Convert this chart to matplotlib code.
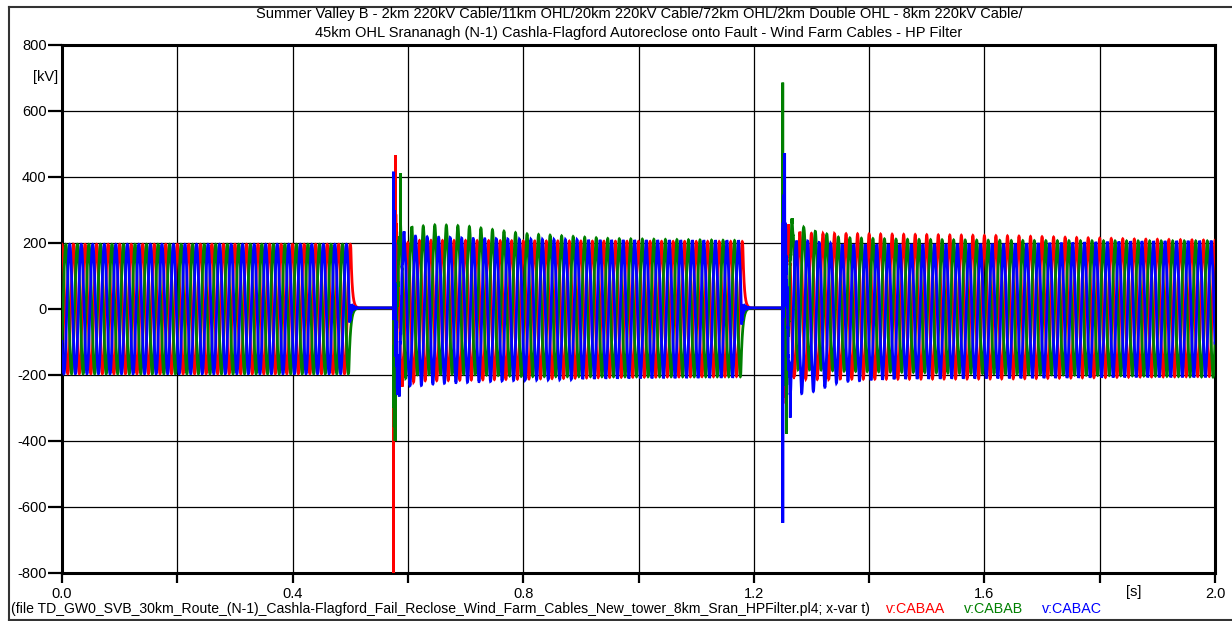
import numpy as np
import matplotlib
matplotlib.use("Agg")
import matplotlib.pyplot as plt
from matplotlib.lines import Line2D

# ------------------------------------------------------------------ data
FREQ_HZ = 50.0
T_END = 2.0
phase_names = ["v:CABAA", "v:CABAB", "v:CABAC"]
phase_colors = ["#ff0000", "#008000", "#0000ff"]
phase_angle_deg = [0.0, -120.0, 120.0]

prefault_amp_kv = [196.0, 196.0, 196.0]

# opening instants of each phase (first and second trip) [s]
trip_times_1 = [0.5010, 0.4975, 0.4990]
trip_times_2 = [1.1810, 1.1775, 1.1790]
trip_decay_ms = [2.5, 3.0, 1.0]
trip_ring_kv = [0.0, 0.0, 30.0]
residual_kv = [3.0, 3.0, 3.5]

reclose_times = [0.575, 1.250]

# envelope after the first reclose (amplitude and offset, kV)
env1_t = [0.575, 0.60, 0.65, 0.70, 0.80, 0.95, 1.18]
env1_amp = [
    [205, 207, 206, 205, 203, 200, 198],
    [215, 218, 220, 218, 210, 203, 200],
    [220, 220, 214, 210, 205, 202, 200],
]
env1_dc = [
    [-5, -5, -5, -4, -3, -1, 0],
    [10, 20, 29, 27, 12, 4, 1],
    [-8, -6, -4, -4, -2, -1, 0],
]

# envelope after the second reclose
env2_t = [1.25, 1.27, 1.30, 1.35, 1.45, 1.65, 1.85, 2.0]
env2_amp = [
    [212, 215, 215, 214, 213, 210, 203, 200],
    [210, 215, 205, 196, 195, 196, 198, 200],
    [215, 225, 220, 200, 196, 196, 198, 199],
]
env2_dc = [
    [8, 8, 8, 8, 7, 5, 3, 2],
    [20, 45, 28, 14, 10, 5, 2, 0],
    [-15, -22, -25, -12, -8, -6, -1, 0],
]

# high-frequency ringing right after each reclose (kV), per phase
ring_fast_kv = [[170, 140, 160], [140, 190, 210]]
ring_slow_kv = [[45, 55, 50], [45, 55, 55]]
harm5_kv = [6.0, 6.0, 8.0]

# switching spikes (t [s], v [kV])
spikes = [
    [(0.5751, -800), (0.5785, 466), (1.2520, -260), (1.2600, 226)],
    [(0.5778, -400), (0.5872, 412), (1.2502, 686), (1.2506, 350),
     (1.2566, -378), (1.2667, 274)],
    [(0.5749, 416), (0.5762, 300), (0.5850, -265), (1.2503, -648),
     (1.2535, 472), (1.2633, -329)],
]

x_ticks = [0.0, 0.2, 0.4, 0.6, 0.8, 1.0, 1.2, 1.4, 1.6, 1.8, 2.0]
x_tick_labels = ["0.0", "", "0.4", "", "0.8", "", "1.2", "", "1.6", "", "2.0"]
y_ticks = [-800, -600, -400, -200, 0, 200, 400, 600, 800]

title_lines = [
    "Summer Valley B - 2km 220kV Cable/11km OHL/20km 220kV Cable/72km OHL/2km Double OHL - 8km 220kV Cable/",
    "45km OHL Srananagh (N-1) Cashla-Flagford Autoreclose onto Fault - Wind Farm Cables - HP Filter",
]
file_text = ("(file TD_GW0_SVB_30km_Route_(N-1)_Cashla-Flagford_Fail_Reclose_Wind_Farm_Cables_"
             "New_tower_8km_Sran_HPFilter.pl4; x-var t)")

# ------------------------------------------------------------------ build waveforms
t = np.arange(0.0, T_END + 1e-9, 2.5e-5)
w = 2 * np.pi * FREQ_HZ


def phase_wave(p):
    ph = np.deg2rad(phase_angle_deg[p])
    v = prefault_amp_kv[p] * np.cos(w * t + ph)
    trips = [trip_times_1[p], trip_times_2[p]]
    env_t = [env1_t, env2_t]
    env_a = [env1_amp[p], env2_amp[p]]
    env_d = [env1_dc[p], env2_dc[p]]
    for k in range(2):
        tt = trips[k]
        tc = reclose_times[k]
        if k == 0:
            v0 = prefault_amp_kv[p] * np.cos(w * tt + ph)
        else:
            a = np.interp(tt, env1_t, env1_amp[p])
            d = np.interp(tt, env1_t, env1_dc[p])
            v0 = a * np.cos(w * tt + ph) + d
        m = (t >= tt) & (t < tc)
        dtm = t[m] - tt
        tau = trip_decay_ms[p] * 1e-3
        v[m] = (v0 - residual_kv[p]) * np.exp(-dtm / tau) + residual_kv[p] \
            + trip_ring_kv[p] * np.exp(-dtm / 3e-3) * np.sin(2 * np.pi * 750 * dtm)
        end = trips[1] if k == 0 else T_END + 1
        m2 = (t >= tc) & (t < end)
        tm = t[m2]
        dtc = tm - tc
        amp = np.interp(tm, env_t[k], env_a[k])
        dc = np.interp(tm, env_t[k], env_d[k])
        v[m2] = amp * np.cos(w * tm + ph) + dc \
            + harm5_kv[p] * np.cos(5 * (w * tm + ph)) \
            + ring_fast_kv[k][p] * np.exp(-dtc / 4e-3) * np.sin(2 * np.pi * 1300 * dtc + p) \
            + ring_slow_kv[k][p] * np.exp(-dtc / 14e-3) * np.sin(2 * np.pi * 310 * dtc + 2 * p)
    tx = t.copy()
    vx = v.copy()
    for ts, vs in spikes[p]:
        i = np.searchsorted(tx, ts)
        tx = np.insert(tx, i, ts)
        vx = np.insert(vx, i, vs)
    return tx, vx


# ------------------------------------------------------------------ figure
W, H = 1232, 621
fig = plt.figure(figsize=(W / 100, H / 100), dpi=100)
plt.rcParams["font.family"] = ["Liberation Sans", "DejaVu Sans"]

L, R, T, B = 62, 1215, 45, 573
ax = fig.add_axes([L / W, 1 - B / H, (R - L) / W, (B - T) / H])

for p in range(3):
    tx, vx = phase_wave(p)
    ax.plot(tx, vx, color=phase_colors[p], lw=2.0, solid_joinstyle="miter", zorder=3 + p)

ax.set_xlim(0, 2.0)
ax.set_ylim(-800, 800)
ax.set_xticks(x_ticks)
ax.set_xticklabels(x_tick_labels)
ax.set_yticks(y_ticks)
ax.set_yticklabels([str(v) for v in y_ticks])
ax.grid(True, color="black", lw=0.9)
ax.set_axisbelow(True)
for s in ax.spines.values():
    s.set_linewidth(2.2)
    s.set_color("black")
ax.tick_params(axis="x", direction="out", length=7, width=1.6, labelsize=10.5, pad=3)
ax.tick_params(axis="y", direction="out", length=10, width=1.6, labelsize=10.5, pad=1)


def fx(x):
    return x / W


def fy(y):
    return 1 - y / H


fig.text(fx(639), fy(14), title_lines[0], ha="center", va="center", fontsize=10.5)
fig.text(fx(639), fy(33), title_lines[1], ha="center", va="center", fontsize=10.5)
fig.text(fx(46), fy(77), "[kV]", ha="center", va="center", fontsize=10.5)
fig.text(fx(1134), fy(592), "[s]", ha="center", va="center", fontsize=10.5)
fig.text(fx(11), fy(609), file_text, ha="left", va="center", fontsize=10.1)
fig.text(fx(886), fy(609), phase_names[0], ha="left", va="center", fontsize=10.3, color=phase_colors[0])
fig.text(fx(964), fy(609), phase_names[1], ha="left", va="center", fontsize=10.3, color=phase_colors[1])
fig.text(fx(1042), fy(609), phase_names[2], ha="left", va="center", fontsize=10.3, color=phase_colors[2])

for xs, ys in [([8.5, 1232], [7, 7]), ([8.5, 8.5], [7, 619.5]), ([8.5, 1232], [619.5, 619.5])]:
    fig.add_artist(Line2D([fx(x) for x in xs], [fy(y) for y in ys], color="#333333", lw=1.5))

fig.savefig("out.png", dpi=100)
